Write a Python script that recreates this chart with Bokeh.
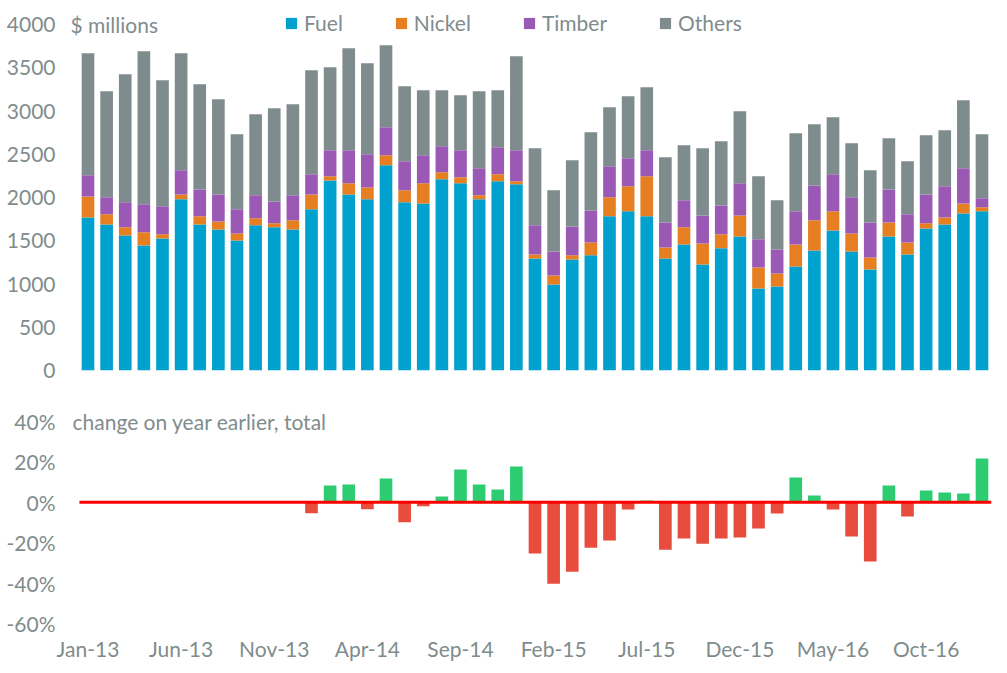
import pandas as pd
from bokeh.plotting import figure
from bokeh.layouts import column
from bokeh.models import ColumnDataSource, FixedTicker, Label, PrintfTickFormatter
from bokeh.embed import file_html
from bokeh.resources import INLINE

# ---------------- data ----------------
months = [d.strftime("%b-%y") for d in pd.date_range("2013-01-01", periods=49, freq="MS")]

fuel = [1770, 1689, 1562, 1446, 1527, 1979, 1689, 1631, 1504, 1678, 1655, 1631,
        1863, 2198, 2036, 1979, 2372, 1944, 1932, 2210, 2164, 1979, 2187, 2152,
        1296, 995, 1284, 1331, 1782, 1840, 1782, 1296, 1458, 1226, 1412, 1550,
        949, 972, 1203, 1388, 1620, 1377, 1169, 1550, 1342, 1643, 1689, 1816,
        1840]
nickel = [243, 116, 93, 151, 47, 57, 93, 93, 81, 81, 46, 105,
          173, 47, 128, 138, 116, 139, 232, 81, 69, 46, 81, 35,
          46, 104, 47, 150, 220, 289, 463, 127, 197, 243, 162, 243,
          243, 150, 255, 348, 220, 208, 138, 162, 139, 58, 81, 116,
          46]
timber = [243, 197, 289, 324, 324, 278, 312, 312, 278, 266, 254, 289,
          232, 300, 381, 382, 324, 335, 324, 301, 312, 312, 312, 358,
          336, 278, 335, 370, 358, 324, 300, 289, 312, 324, 335, 371,
          324, 278, 382, 404, 428, 417, 405, 382, 324, 335, 359, 405,
          104]
others = [1412, 1226, 1481, 1770, 1457, 1354, 1215, 1099, 868, 937, 1076, 1053,
          1203, 961, 1180, 1053, 948, 868, 752, 648, 637, 891, 660, 1088,
          891, 706, 764, 903, 683, 717, 729, 752, 636, 776, 741, 833,
          729, 567, 902, 706, 659, 624, 602, 590, 613, 683, 648, 787,
          741]

# change on year earlier, total (%), from Jan-14 onwards
pct_months = months[12:]
pct_change = [-5.4, 8.3, 8.8, -3.5, 11.7, -9.9, -2.0, 2.8, 16.2, 8.8, 6.3, 17.7,
              -25.4, -40.3, -34.4, -22.5, -19.0, -3.6, 0.8, -23.5, -18.0, -20.5,
              -18.0, -17.5, -13.0, -5.6, 12.2, 3.3, -3.6, -17.0, -29.4, 8.3,
              -7.1, 5.8, 4.8, 4.3, 21.7]

series = ["Fuel", "Nickel", "Timber", "Others"]
colors = ["#00a1cf", "#e67e22", "#9b59b6", "#7f8c8d"]
tick_every = 5

# ---------------- styling ----------------
FONT = "Lato"
TXT = "#7f8c8d"
FS = "21px"
BAR_W = 0.68
XR = (-1.154, 48.51)

idx = list(range(len(months)))
src = ColumnDataSource(dict(x=idx, Fuel=fuel, Nickel=nickel, Timber=timber, Others=others))

tick_pos = idx[::tick_every]
tick_over = {i: months[i] for i in tick_pos}


def style(p):
    p.grid.visible = False
    p.outline_line_color = None
    for ax in p.axis:
        ax.axis_line_color = None
        ax.major_tick_line_color = None
        ax.minor_tick_line_color = None
        ax.major_tick_out = 0
        ax.major_tick_in = 0
        ax.major_label_text_font = FONT
        ax.major_label_text_font_size = FS
        ax.major_label_text_color = TXT
    p.background_fill_color = "white"
    p.border_fill_color = "white"


# ---------------- top chart ----------------
top = figure(width=1000, height=386, x_range=XR, y_range=(0, 4162),
             output_backend="svg", toolbar_location=None,
             min_border_left=66, min_border_right=9,
             min_border_top=10, min_border_bottom=16)
top.vbar_stack(series, x="x", width=BAR_W, color=colors, source=src,
               line_color=None, legend_label=series)
style(top)
top.xaxis.visible = False
top.yaxis.ticker = FixedTicker(ticks=[0, 500, 1000, 1500, 2000, 2500, 3000, 3500, 4000])
top.yaxis.major_label_standoff = 11

lg = top.legend[0]
lg.orientation = "horizontal"
lg.location = (218, 335)
lg.margin = 0
lg.padding = 0
lg.spacing = 51
lg.glyph_width = 14
lg.glyph_height = 14
lg.label_standoff = 6
lg.label_text_font = FONT
lg.label_text_font_size = FS
lg.label_text_color = TXT
lg.border_line_color = None
lg.background_fill_alpha = 0

top.add_layout(Label(x=4, y=4000, x_units="screen", text="$ millions",
                     text_font=FONT, text_font_size=FS, text_color=TXT,
                     text_baseline="middle", text_align="left"))

# ---------------- bottom chart ----------------
bot = figure(width=1000, height=287, x_range=XR, y_range=(-63.5, 55.3),
             output_backend="svg", toolbar_location=None,
             min_border_left=66, min_border_right=9,
             min_border_top=4, min_border_bottom=43)
pidx = [months.index(m) for m in pct_months]
pcol = ["#2ecc71" if v >= 0 else "#e74c3c" for v in pct_change]
bsrc = ColumnDataSource(dict(x=pidx, top=pct_change, color=pcol))
bot.vbar(x="x", top="top", bottom=0, width=BAR_W, color="color",
         line_color=None, source=bsrc)
# zero line from the first month's bar edge to the right edge of the plot
bot.segment(x0=idx[0] - BAR_W / 2 - 0.12, y0=0, x1=XR[1], y1=0,
            line_color="#ff0000", line_width=3)
style(bot)
bot.yaxis.ticker = FixedTicker(ticks=[-60, -40, -20, 0, 20, 40])
bot.yaxis.formatter = PrintfTickFormatter(format="%d%%")
bot.yaxis.major_label_standoff = 11
bot.xaxis.ticker = FixedTicker(ticks=tick_pos)
bot.xaxis.major_label_overrides = tick_over
bot.xaxis.major_label_standoff = 5

bot.add_layout(Label(x=6, y=40, x_units="screen", text="change on year earlier, total",
                     text_font=FONT, text_font_size=FS, text_color=TXT,
                     text_baseline="middle", text_align="left"))

layout = column(top, bot, spacing=0)
open("out.html", "w").write(file_html(layout, INLINE))
